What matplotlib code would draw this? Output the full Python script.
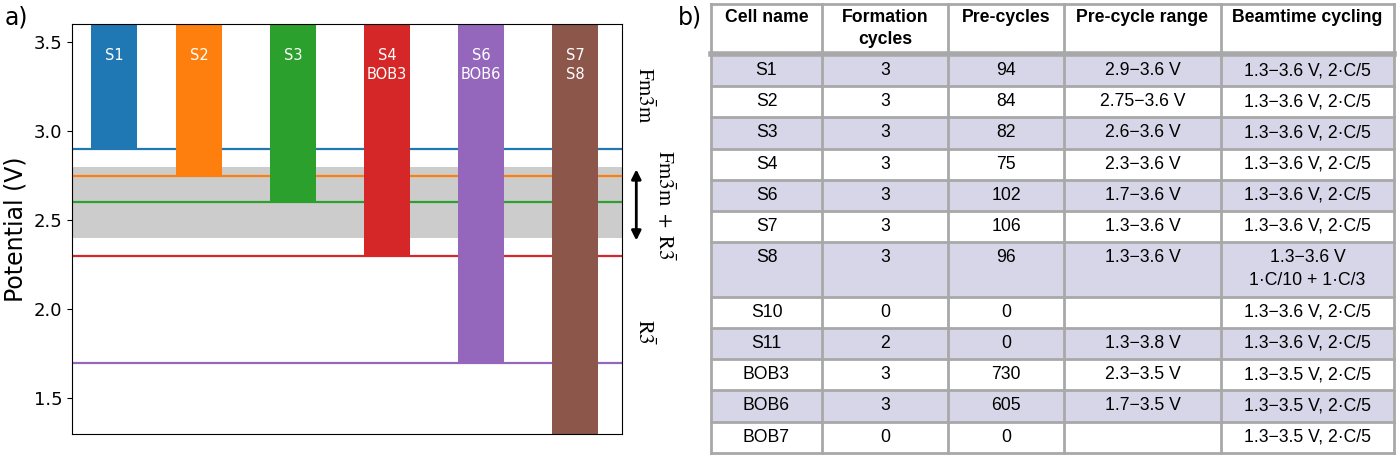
import matplotlib
matplotlib.use("Agg")
import matplotlib.pyplot as plt
from matplotlib.patches import Rectangle

plt.rcParams['mathtext.fontset'] = 'stix'

# ---- panel a) data
cells = ['S1', 'S2', 'S3', 'S4\nBOB3', 'S6\nBOB6', 'S7\nS8']
xpos = [0.1, 1, 2, 3, 4, 5]
lower_v = [2.9, 2.75, 2.6, 2.3, 1.7, 1.3]
upper_v = 3.6
line_v = [2.9, 2.75, 2.6, 2.3, 1.7]
colors = ['#1f77b4', '#ff7f0e', '#2ca02c', '#d62728', '#9467bd', '#8c564b']
band = (2.4, 2.8)

# ---- panel b) data
header = ['Cell name', 'Formation\ncycles', 'Pre-cycles', 'Pre-cycle range', 'Beamtime cycling']
col_name = ['S1', 'S2', 'S3', 'S4', 'S6', 'S7', 'S8', 'S10', 'S11', 'BOB3', 'BOB6', 'BOB7']
col_form = ['3', '3', '3', '3', '3', '3', '3', '0', '2', '3', '3', '0']
col_pre = ['94', '84', '82', '75', '102', '106', '96', '0', '0', '730', '605', '0']
col_range = ['2.9−3.6 V', '2.75−3.6 V', '2.6−3.6 V', '2.3−3.6 V', '1.7−3.6 V', '1.3−3.6 V',
             '1.3−3.6 V', '', '1.3−3.8 V', '2.3−3.5 V', '1.7−3.5 V', '']
col_beam = ['1.3−3.6 V, 2·C/5'] * 6 + ['1.3−3.6 V\n1·C/10 + 1·C/3'] + \
           ['1.3−3.6 V, 2·C/5'] * 2 + ['1.3−3.5 V, 2·C/5'] * 3

fig = plt.figure(figsize=(13.98, 4.59), dpi=100)

# ---------------- a)
ax = fig.add_axes([72 / 1398, 1 - 434 / 459, 550 / 1398, 410 / 459])
ax.axhspan(band[0], band[1], color='#cccccc', zorder=0, lw=0)
for v, c in zip(line_v, colors):
    ax.axhline(v, color=c, lw=1.6, zorder=1)
for x, lo, c, name in zip(xpos, lower_v, colors, cells):
    ax.bar(x, upper_v - lo, bottom=lo, width=0.49, color=c, zorder=2)
    ax.text(x, 3.465, name, color='white', ha='center', va='top', fontsize=10.5,
            linespacing=1.35, zorder=3)
ax.set_xlim(-0.35, 5.5)
ax.set_ylim(1.3, 3.6)
ax.set_xticks([])
ax.set_yticks([1.5, 2.0, 2.5, 3.0, 3.5])
ax.tick_params(axis='y', labelsize=13)
ax.set_ylabel('Potential (V)', fontsize=17)

ax.text(1.042, 3.2, r'$\mathrm{Fm\bar{3}m}$', transform=ax.get_yaxis_transform(),
        rotation=270, ha='center', va='center', fontsize=15)
ax.text(1.078, 2.58, r'$\mathrm{Fm\bar{3}m\ +\ R\bar{3}}$', transform=ax.get_yaxis_transform(),
        rotation=270, ha='center', va='center', fontsize=15)
ax.text(1.042, 1.87, r'$\mathrm{R\bar{3}}$', transform=ax.get_yaxis_transform(),
        rotation=270, ha='center', va='center', fontsize=15)
ax.annotate('', xy=(1.026, 2.37), xytext=(1.026, 2.8), xycoords=ax.get_yaxis_transform(),
            arrowprops=dict(arrowstyle='<|-|>', color='black', lw=2, mutation_scale=14),
            annotation_clip=False)

fig.text(5 / 1398, 1 - 18 / 459, 'a)', fontsize=17, va='center')
fig.text(678 / 1398, 1 - 18 / 459, 'b)', fontsize=17, va='center')

# ---------------- b) table drawn in pixel units
tx = fig.add_axes([0, 0, 1, 1])
tx.set_xlim(0, 1398)
tx.set_ylim(459, 0)
tx.axis('off')

col_edges = [711, 822, 948, 1064, 1221, 1394]
header_top, header_bot = 4, 53
row_h = [31.2] * 6 + [54.6] + [31.2] * 5
shade = '#d6d6e8'
grid = '#a8a8a8'
tfont = 'Liberation Sans'
fs = 12.7

columns = [col_name, col_form, col_pre, col_range, col_beam]

# header
for j, h in enumerate(header):
    cx = (col_edges[j] + col_edges[j + 1]) / 2
    for k, line in enumerate(h.split('\n')):
        tx.text(cx, header_top + 14 + k * 22, line, ha='center', va='center',
                fontsize=fs, fontweight='bold', family=tfont)

y = 55
row_tops = []
for i, h in enumerate(row_h):
    row_tops.append(y)
    if i % 2 == 0:
        tx.add_patch(Rectangle((col_edges[0], y), col_edges[-1] - col_edges[0], h,
                               facecolor=shade, edgecolor='none', zorder=0))
    for j, col in enumerate(columns):
        cx = (col_edges[j] + col_edges[j + 1]) / 2
        for k, line in enumerate(col[i].split('\n')):
            tx.text(cx, y + 15.5 + k * 23, line, ha='center', va='center',
                    fontsize=fs, family=tfont, zorder=2)
    y += h
table_bot = y

# grid lines
for xe in col_edges:
    tx.plot([xe, xe], [header_top, table_bot], color=grid, lw=2, zorder=1)
tx.plot([col_edges[0], col_edges[-1]], [header_top, header_top], color=grid, lw=2, zorder=1)
tx.plot([col_edges[0], col_edges[-1]], [header_bot + 1, header_bot + 1], color=grid, lw=4, zorder=1)
for yt in row_tops[1:]:
    tx.plot([col_edges[0], col_edges[-1]], [yt, yt], color=grid, lw=2, zorder=1)
tx.plot([col_edges[0], col_edges[-1]], [table_bot, table_bot], color=grid, lw=2, zorder=1)

fig.savefig('out.png', dpi=100)
